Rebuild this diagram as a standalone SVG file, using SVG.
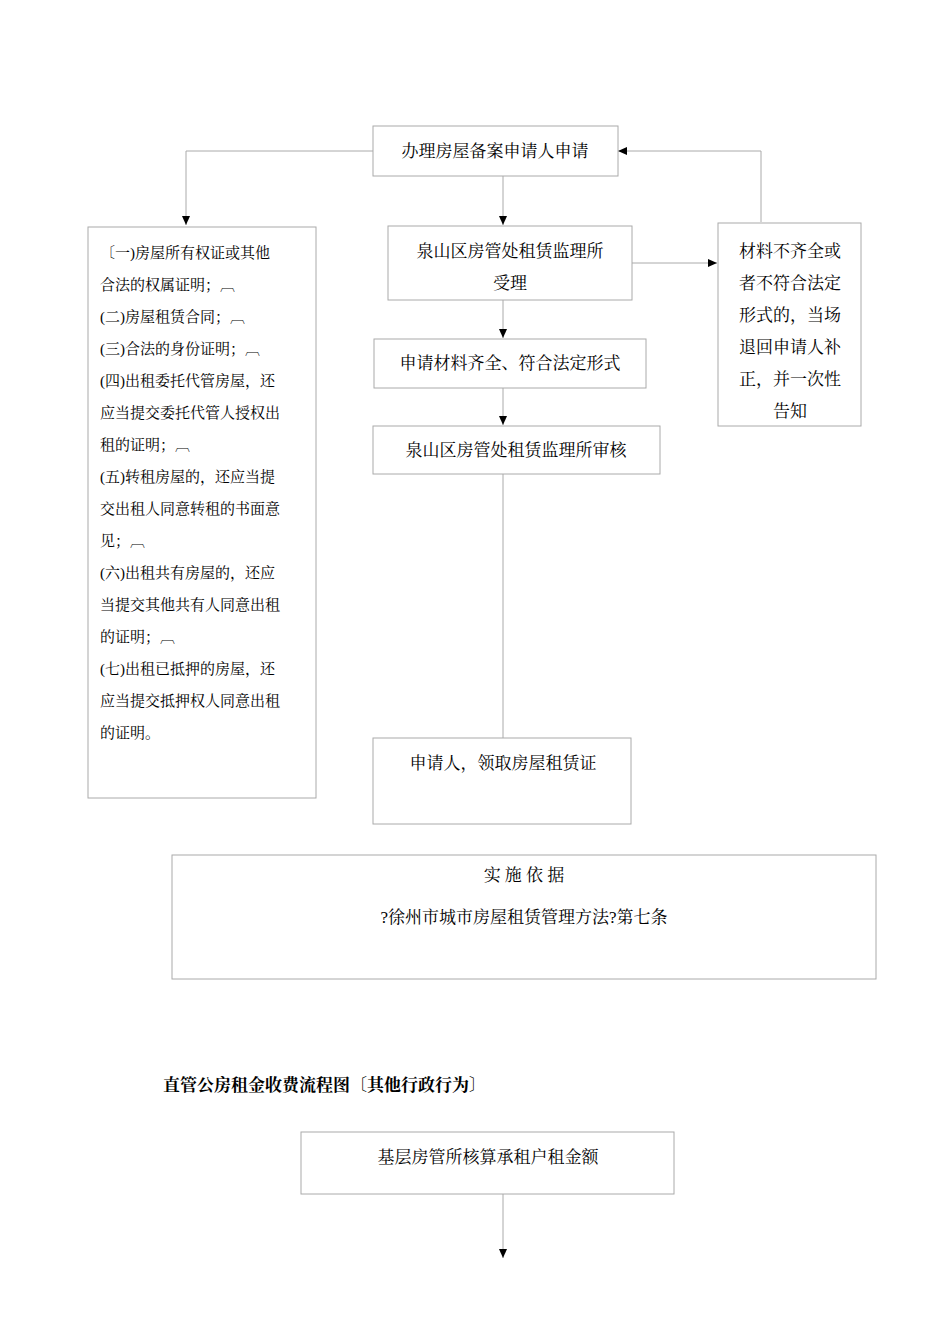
<svg xmlns="http://www.w3.org/2000/svg" width="950" height="1344" viewBox="0 0 950 1344">
<style>
.b{fill:#fff;stroke:#aaa;stroke-width:1}
.l{fill:none;stroke:#aaa;stroke-width:1}
text{font-family:"Liberation Serif","Noto Serif CJK SC","Noto Sans CJK SC",serif;fill:#000}
.m{font-size:17px}
.s{font-size:15px}
.c{text-anchor:middle}
</style>
<defs><marker id="a" markerWidth="10" markerHeight="10" refX="9" refY="5" orient="auto" markerUnits="userSpaceOnUse"><path d="M0,1 L9,5 L0,9 Z" fill="#000"/></marker></defs>
<rect width="950" height="1344" fill="#fff"/>
<g id="connectors">
<path class="l" d="M373,151 H186 V225" marker-end="url(#a)"/>
<path class="l" d="M503,176 V225" marker-end="url(#a)"/>
<path class="l" d="M632,263 H717" marker-end="url(#a)"/>
<path class="l" d="M761,222 V151 H618" marker-end="url(#a)"/>
<path class="l" d="M503,300 V338" marker-end="url(#a)"/>
<path class="l" d="M503,388 V425" marker-end="url(#a)"/>
<path class="l" d="M503,474 V738"/>
<path class="l" d="M503,1194 V1258" marker-end="url(#a)"/>
</g>
<g id="n1"><rect class="b" x="373" y="126" width="245" height="50"/><text class="m c" x="495" y="157">办理房屋备案申请人申请</text></g>
<g id="n2"><rect class="b" x="88" y="227" width="228" height="571"/>
<text class="s" x="100" y="258">〔一)房屋所有权证或其他</text>
<text class="s" x="100" y="290">合法的权属证明；︹</text>
<text class="s" x="100" y="322">(二)房屋租赁合同；︹</text>
<text class="s" x="100" y="354">(三)合法的身份证明；︹</text>
<text class="s" x="100" y="386">(四)出租委托代管房屋，还</text>
<text class="s" x="100" y="418">应当提交委托代管人授权出</text>
<text class="s" x="100" y="450">租的证明；︹</text>
<text class="s" x="100" y="482">(五)转租房屋的，还应当提</text>
<text class="s" x="100" y="514">交出租人同意转租的书面意</text>
<text class="s" x="100" y="546">见；︹</text>
<text class="s" x="100" y="578">(六)出租共有房屋的，还应</text>
<text class="s" x="100" y="610">当提交其他共有人同意出租</text>
<text class="s" x="100" y="642">的证明；︹</text>
<text class="s" x="100" y="674">(七)出租已抵押的房屋，还</text>
<text class="s" x="100" y="706">应当提交抵押权人同意出租</text>
<text class="s" x="100" y="738">的证明。</text></g>
<g id="n3"><rect class="b" x="388" y="226" width="244" height="74"/><text class="m c" x="510" y="257">泉山区房管处租赁监理所</text><text class="m c" x="510" y="289">受理</text></g>
<g id="n4"><rect class="b" x="718" y="223" width="143" height="203"/>
<text class="m c" x="790" y="257">材料不齐全或</text><text class="m c" x="790" y="289">者不符合法定</text><text class="m c" x="790" y="321">形式的，当场</text><text class="m c" x="790" y="353">退回申请人补</text><text class="m c" x="790" y="385">正，并一次性</text><text class="m c" x="790" y="417">告知</text></g>
<g id="n5"><rect class="b" x="374" y="339" width="272" height="49"/><text class="m c" x="510" y="369">申请材料齐全、符合法定形式</text></g>
<g id="n6"><rect class="b" x="373" y="426" width="287" height="48"/><text class="m c" x="516" y="456">泉山区房管处租赁监理所审核</text></g>
<g id="n7"><rect class="b" x="373" y="738" width="258" height="86"/><text class="m c" x="503" y="769">申请人，领取房屋租赁证</text></g>
<g id="n8"><rect class="b" x="172" y="855" width="704" height="124"/><text class="m c" x="524" y="881">实 施 依 据</text><text class="m c" x="524" y="923">?徐州市城市房屋租赁管理方法?第七条</text></g>
<text x="163" y="1091" style="font-size:17px;font-weight:bold">直管公房租金收费流程图〔其他行政行为〕</text>
<g id="n9"><rect class="b" x="301" y="1132" width="373" height="62"/><text class="m c" x="488" y="1163">基层房管所核算承租户租金额</text></g>
</svg>
